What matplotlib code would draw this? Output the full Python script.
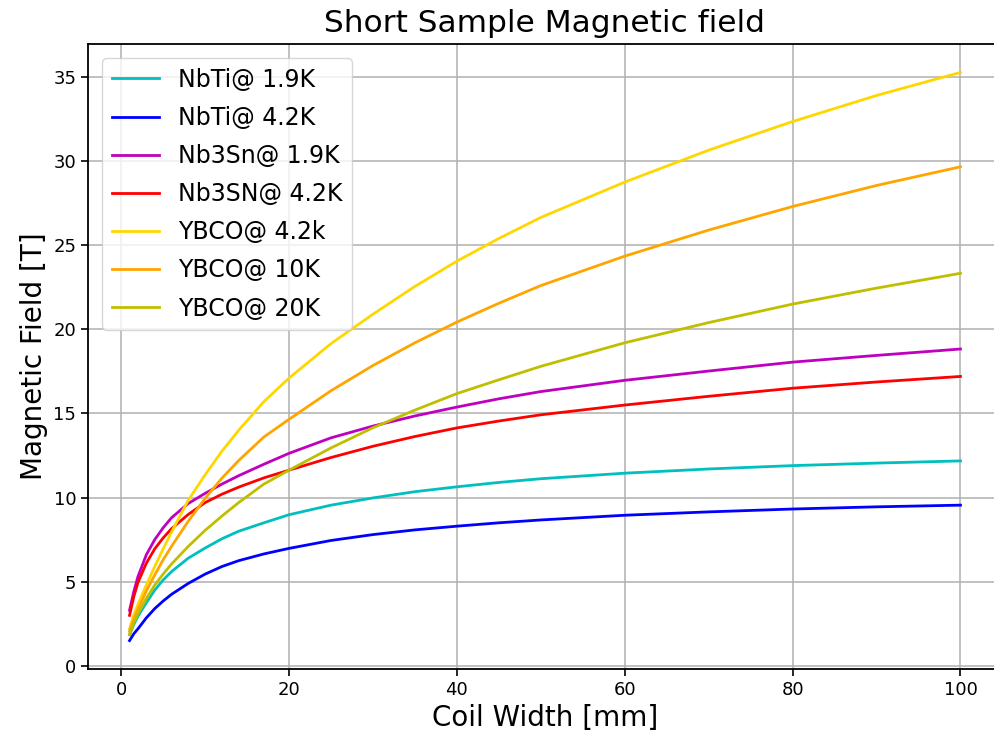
import matplotlib
matplotlib.use("Agg")
import matplotlib.pyplot as plt

# Coil width [mm]
coil_width = [1, 1.5, 2, 3, 4, 5, 6, 8, 10, 12, 14, 17, 20, 25, 30, 35, 40, 45, 50, 60, 70, 80, 90, 100]

# Magnetic field [T]
nbti_19 = [1.85, 2.45, 2.95, 3.75, 4.5, 5.1, 5.6, 6.4, 7.0, 7.55, 8.0, 8.5, 8.98, 9.55, 9.98, 10.35,
           10.64, 10.9, 11.12, 11.45, 11.7, 11.9, 12.05, 12.18]
nbti_42 = [1.5, 1.9, 2.2, 2.85, 3.4, 3.85, 4.25, 4.9, 5.45, 5.9, 6.25, 6.65, 6.98, 7.45, 7.8, 8.08,
           8.3, 8.5, 8.67, 8.95, 9.15, 9.32, 9.45, 9.55]
nb3sn_19 = [3.3, 4.4, 5.3, 6.6, 7.5, 8.2, 8.8, 9.65, 10.25, 10.8, 11.3, 11.98, 12.63, 13.55, 14.25,
            14.85, 15.38, 15.87, 16.3, 16.97, 17.52, 18.05, 18.45, 18.83]
nb3sn_42 = [3.0, 4.1, 4.95, 6.1, 6.95, 7.6, 8.15, 9.0, 9.7, 10.2, 10.62, 11.17, 11.63, 12.38, 13.05,
            13.63, 14.14, 14.55, 14.92, 15.5, 16.02, 16.5, 16.87, 17.2]
ybco_42 = [2.2, 3.0, 3.65, 4.8, 5.9, 6.95, 7.95, 9.85, 11.35, 12.75, 14.0, 15.7, 17.1, 19.15, 20.9,
           22.55, 24.05, 25.4, 26.65, 28.75, 30.65, 32.35, 33.9, 35.27]
ybco_10 = [2.05, 2.75, 3.35, 4.45, 5.4, 6.3, 7.1, 8.6, 9.95, 11.15, 12.2, 13.6, 14.65, 16.35, 17.85,
           19.2, 20.43, 21.55, 22.6, 24.35, 25.9, 27.3, 28.55, 29.66]
ybco_20 = [1.85, 2.55, 3.1, 4.0, 4.8, 5.45, 6.05, 7.1, 8.05, 8.9, 9.7, 10.8, 11.63, 12.95, 14.15,
           15.2, 16.18, 17.0, 17.8, 19.2, 20.4, 21.5, 22.45, 23.33]

series = [
    ("NbTi@ 1.9K", nbti_19, "c"),
    ("NbTi@ 4.2K", nbti_42, "b"),
    ("Nb3Sn@ 1.9K", nb3sn_19, "m"),
    ("Nb3SN@ 4.2K", nb3sn_42, "r"),
    ("YBCO@ 4.2k", ybco_42, "gold"),
    ("YBCO@ 10K", ybco_10, "orange"),
    ("YBCO@ 20K", ybco_20, "y"),
]

fig = plt.figure(figsize=(9.95, 7.4), dpi=100)
ax = fig.add_axes([88 / 995, 1 - 669 / 740, 914 / 995, (669 - 44) / 740])

for label, vals, color in series:
    ax.plot(coil_width, vals, color=color, lw=2.0, label=label)

ax.grid(True, color="#b0b0b0", lw=1.1)
ax.set_title("Short Sample Magnetic field", fontsize=22.5, pad=9)
ax.set_xlabel("Coil Width [mm]", fontsize=20)
ax.set_ylabel("Magnetic Field [T]", fontsize=20)
ax.tick_params(labelsize=13, length=5, width=1.2)
for s in ax.spines.values():
    s.set_linewidth(1.3)
ax.legend(loc="upper left", fontsize=17, handlelength=2.0, borderaxespad=0.6,
          labelspacing=0.6)

fig.savefig("out.png", dpi=100)
